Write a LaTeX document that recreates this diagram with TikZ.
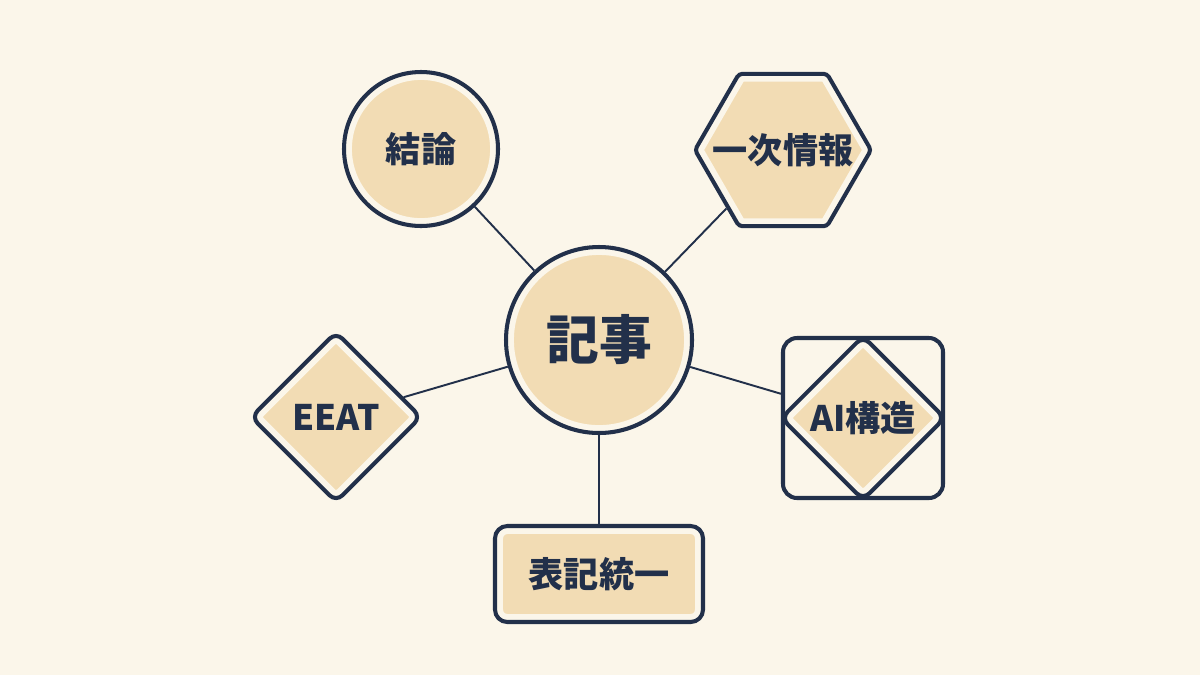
\documentclass[tikz,border=0pt]{standalone}
\usepackage{fontspec}
\setmainfont{Noto Sans CJK JP}
\usetikzlibrary{positioning,shapes.geometric}
\definecolor{paper}{HTML}{FBF6EA}
\definecolor{wash}{HTML}{F2DCB4}
\definecolor{ink}{HTML}{22304A}

\begin{document}
\begin{tikzpicture}[on grid,node distance=4cm,
    main node/.style={draw=ink,line width=2.3pt,text=ink,inner sep=0pt,font=\bfseries\fontsize{20}{24}\selectfont,
        preaction={fill=wash},preaction={draw=paper,line width=9pt}},
    frame node/.style={draw=ink,line width=2.3pt,rectangle,rounded corners=8pt,minimum size=3.2cm}]
    \fill[paper] (0,0) rectangle (24,-13.5);
    \useasboundingbox (0,0) rectangle (24,-13.5);

    \node[main node,circle,minimum size=3.72cm,font=\bfseries\fontsize{30}{36}\selectfont] (1) at (11.98,-6.8) {記事};
    \node[main node,circle,minimum size=3.08cm] (2) [above left=3.82cm and 3.56cm of 1] {結論};
    \node[main node,regular polygon,regular polygon sides=6,minimum size=3.52cm,rounded corners=2pt] (3) [above right=3.8cm and 3.68cm of 1] {\makebox[0pt]{一次情報}};
    \node[main node,diamond,aspect=1,minimum width=3.42cm,minimum height=3.42cm,rounded corners=5pt] (4) [below left=1.54cm and 5.26cm of 1] {EEAT};
    \node[main node,diamond,aspect=1,minimum width=3.3cm,minimum height=3.3cm,rounded corners=5pt] (5) [below right=1.56cm and 5.28cm of 1] {AI構造};
    \node[frame node] (6) at (5) {};
    \node[main node,rectangle,rounded corners=7pt,minimum width=4.16cm,minimum height=1.92cm] (7) [below=4.68cm of 1] {表記統一};

    \path[every edge/.style={draw=ink,line width=1.1pt}]
        (1) edge (2)
        (1) edge (3)
        (1) edge (4)
        (1) edge (6)
        (1) edge (7)
        ;
\end{tikzpicture}
\end{document}
